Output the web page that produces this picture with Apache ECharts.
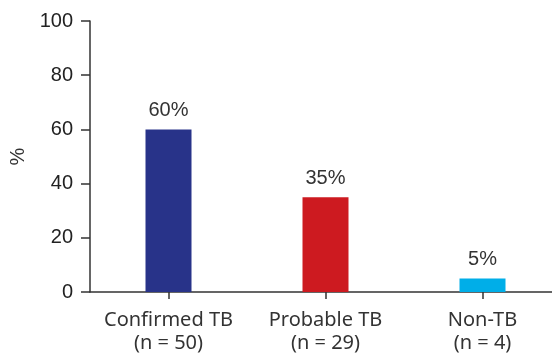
<!DOCTYPE html>
<html><head><meta charset="utf-8">
<script src="https://cdn.jsdelivr.net/npm/echarts@6/dist/echarts.min.js"></script>
<style>html,body{margin:0;padding:0;background:#fff}#c{width:552px;height:354px}</style>
</head><body><div id="c"></div>
<script>
const categories = ['Confirmed TB\n(n = 50)', 'Probable TB\n(n = 29)', 'Non-TB\n(n = 4)'];
const values = [60, 35, 5];
const barColors = ['#283389', '#cd1a20', '#00aee8'];
const yTicks = [0, 20, 40, 60, 80, 100];

const chart = echarts.init(document.getElementById('c'), null, {renderer: 'canvas'});
chart.setOption({
  animation: false,
  grid: {left: 90, top: 21, width: 471, height: 271, outerBoundsMode: 'none', containLabel: false},
  xAxis: {
    type: 'category', data: categories,
    axisLine: {lineStyle: {color: '#333', width: 1.5}},
    axisTick: {show: true, alignWithLabel: true, inside: false, length: 7, lineStyle: {color: '#333', width: 1.5}},
    axisLabel: {interval: 0, hideOverlap: false, color: '#333', fontSize: 20, fontFamily: 'Noto Sans', lineHeight: 23, margin: 17}
  },
  yAxis: {
    type: 'value', min: yTicks[0], max: yTicks[yTicks.length - 1], interval: 20,
    name: '%', nameLocation: 'middle', nameGap: 51, nameRotate: 90,
    nameTextStyle: {color: '#333', fontSize: 20, fontFamily: 'Liberation Sans'},
    splitLine: {show: false},
    axisLine: {show: true, lineStyle: {color: '#333', width: 1.5}},
    axisTick: {show: true, inside: false, length: 9, lineStyle: {color: '#333', width: 1.5}},
    axisLabel: {color: '#222', fontSize: 20, fontFamily: 'Liberation Sans', margin: 17}
  },
  series: [{
    type: 'bar', barWidth: 46,
    data: values.map((v, i) => ({value: v, itemStyle: {color: barColors[i]}})),
    label: {show: true, position: 'top', distance: 9, formatter: '{c}%', color: '#333', fontSize: 20, fontFamily: 'Liberation Sans'}
  }]
});
</script></body></html>
